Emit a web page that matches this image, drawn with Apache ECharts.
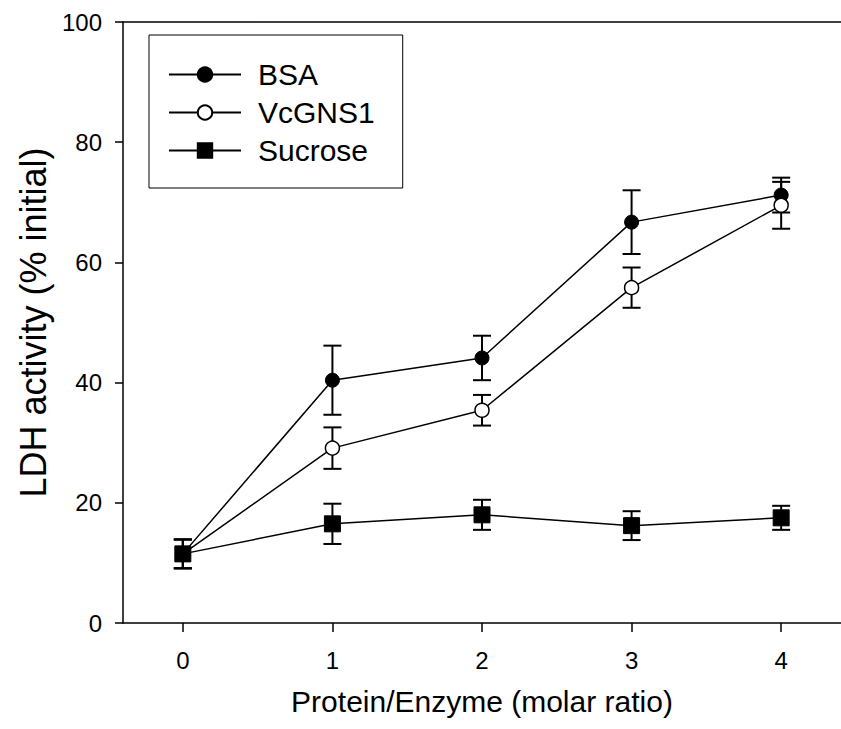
<!DOCTYPE html>
<html>
<head>
<meta charset="utf-8">
<script src="https://cdn.jsdelivr.net/npm/echarts@6/dist/echarts.min.js"></script>
<style>
html,body{margin:0;padding:0;background:#fff;}
#chart{width:841px;height:729px;}
</style>
</head>
<body>
<div id="chart"></div>
<script>
// ---- data ----
const ratios = [0, 1, 2, 3, 4];
const xTicks = [0, 1, 2, 3, 4];
const bsa = [11.5, 40.4, 44.1, 66.7, 71.2];
const bsaErr = [2.4, 5.75, 3.7, 5.3, 2.9];
const vcgns1 = [11.5, 29.1, 35.4, 55.8, 69.5];
const vcgns1Err = [2.4, 3.45, 2.55, 3.35, 3.9];
const sucrose = [11.5, 16.5, 18.0, 16.2, 17.5];
const sucroseErr = [2.4, 3.35, 2.5, 2.4, 2.0];
const seriesNames = ['BSA', 'VcGNS1', 'Sucrose'];
const xTitle = 'Protein/Enzyme (molar ratio)';
const yTitle = 'LDH activity (% initial)';

const FONT = '"Liberation Sans", Arial, sans-serif';

function pairs(vals) { return ratios.map((x, i) => [x, vals[i]]); }

function errSeries(vals, errs) {
  return {
    type: 'custom',
    silent: true,
    z: 1,
    data: ratios.map((x, i) => [x, vals[i] - errs[i], vals[i] + errs[i]]),
    encode: { x: 0, y: [1, 2] },
    renderItem: function (params, api) {
      const lo = api.coord([api.value(0), api.value(1)]);
      const hi = api.coord([api.value(0), api.value(2)]);
      const hw = 9;
      const st = { stroke: '#000', lineWidth: 2, fill: null };
      return {
        type: 'group',
        children: [
          { type: 'line', shape: { x1: lo[0], y1: lo[1], x2: hi[0], y2: hi[1] }, style: st },
          { type: 'line', shape: { x1: lo[0] - hw, y1: lo[1], x2: lo[0] + hw, y2: lo[1] }, style: st },
          { type: 'line', shape: { x1: hi[0] - hw, y1: hi[1], x2: hi[0] + hw, y2: hi[1] }, style: st }
        ]
      };
    }
  };
}

const chart = echarts.init(document.getElementById('chart'), null, { renderer: 'svg' });
chart.setOption({
  animation: false,
  backgroundColor: '#fff',
  textStyle: { fontFamily: FONT, color: '#000' },
  grid: { left: 123, top: 22, width: 720, height: 601 },
  legend: {
    data: seriesNames,
    orient: 'vertical',
    left: 149,
    top: 35,
    padding: [24, 28, 22, 19],
    borderColor: '#000',
    borderWidth: 1,
    itemWidth: 72,
    itemHeight: 18,
    itemGap: 7,
    selectedMode: false,
    textStyle: { fontFamily: FONT, fontSize: 30, color: '#000', lineHeight: 31, padding: [0, 0, 0, 12] }
  },
  xAxis: [{
    type: 'value',
    min: -0.4,
    max: 4.4,
    position: 'bottom',
    name: xTitle,
    nameLocation: 'middle',
    nameGap: 63,
    nameTextStyle: { fontFamily: FONT, fontSize: 30, color: '#000' },
    axisLine: { show: true, onZero: false, lineStyle: { color: '#000', width: 1.5 } },
    axisTick: { show: true, inside: false, length: 9, customValues: xTicks, lineStyle: { color: '#000', width: 1.5 } },
    axisLabel: { show: true, customValues: xTicks, margin: 25, fontFamily: FONT, fontSize: 24, color: '#000' },
    splitLine: { show: false }
  }, {
    type: 'value',
    min: -0.4,
    max: 4.4,
    position: 'top',
    axisLine: { show: true, onZero: false, lineStyle: { color: '#000', width: 1.5 } },
    axisTick: { show: false },
    axisLabel: { show: false },
    splitLine: { show: false }
  }],
  yAxis: {
    type: 'value',
    min: 0,
    max: 100,
    interval: 20,
    name: yTitle,
    nameLocation: 'middle',
    nameGap: 70,
    nameTextStyle: { fontFamily: FONT, fontSize: 36, color: '#000' },
    axisLine: { show: true, onZero: false, lineStyle: { color: '#000', width: 1.5 } },
    axisTick: { show: true, inside: false, length: 8, lineStyle: { color: '#000', width: 1.5 } },
    axisLabel: { margin: 21, fontFamily: FONT, fontSize: 24, color: '#000' },
    splitLine: { show: false }
  },
  series: [
    errSeries(bsa, bsaErr),
    errSeries(vcgns1, vcgns1Err),
    errSeries(sucrose, sucroseErr),
    {
      name: 'BSA', type: 'line', data: pairs(bsa), z: 3,
      symbol: 'circle', symbolSize: 14,
      lineStyle: { color: '#000', width: 1.5 },
      itemStyle: { color: '#000', borderColor: '#000', borderWidth: 1 }
    },
    {
      name: 'VcGNS1', type: 'line', data: pairs(vcgns1), z: 4,
      symbol: 'circle', symbolSize: 14,
      lineStyle: { color: '#000', width: 1.5 },
      itemStyle: { color: '#fff', borderColor: '#000', borderWidth: 1.5 }
    },
    {
      name: 'Sucrose', type: 'line', data: pairs(sucrose), z: 5,
      symbol: 'rect', symbolSize: 16,
      lineStyle: { color: '#000', width: 1.5 },
      itemStyle: { color: '#000', borderColor: '#000', borderWidth: 1 }
    }
  ]
});
</script>
</body>
</html>
